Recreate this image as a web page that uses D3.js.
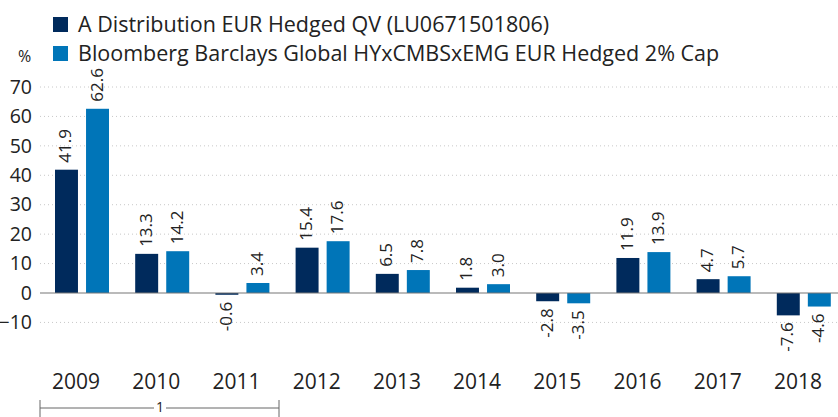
<!DOCTYPE html>
<html>
<head>
<meta charset="utf-8">
<script src="https://cdn.jsdelivr.net/npm/d3@7"></script>
<style>
  body { margin: 0; background: #fff; }
  text { font-family: "Open Sans", "Noto Sans", sans-serif; fill: #222; }
</style>
</head>
<body>
<div id="chart"></div>
<script>
// Data
const years = ["2009", "2010", "2011", "2012", "2013", "2014", "2015", "2016", "2017", "2018"];
const fund = [41.9, 13.3, -0.6, 15.4, 6.5, 1.8, -2.8, 11.9, 4.7, -7.6];
const bench = [62.6, 14.2, 3.4, 17.6, 7.8, 3.0, -3.5, 13.9, 5.7, -4.6];
const seriesNames = ["A Distribution EUR Hedged QV (LU0671501806)", "Bloomberg Barclays Global HYxCMBSxEMG EUR Hedged 2% Cap"];
const yTicks = [-10, 0, 10, 20, 30, 40, 50, 60, 70];

const width = 838, height = 417;
const colors = ["#002a5c", "#0075b8"];

const svg = d3.select("#chart")
  .append("svg")
  .attr("width", width)
  .attr("height", height);

const data = years.map((y, i) => ({ year: y, values: [fund[i], bench[i]] }));

// Scales
const xScale = d3.scaleBand()
  .domain(years)
  .range([42, 844]);

const xSub = d3.scaleBand()
  .domain([0, 1])
  .range([13, 67])
  .paddingInner(0.26);

const yScale = d3.scaleLinear()
  .domain([0, 70])
  .range([293, 87]);

// Grid lines
svg.append("g")
  .selectAll("line")
  .data(yTicks.filter(d => d !== 0))
  .join("line")
  .attr("x1", 40)
  .attr("x2", 838)
  .attr("y1", d => yScale(d))
  .attr("y2", d => yScale(d))
  .attr("stroke", "#c8c8c8")
  .attr("stroke-dasharray", "1,3");

// Y axis labels
const yAxis = d3.axisLeft(yScale).tickValues(yTicks).tickSize(0).tickPadding(0);
svg.append("g")
  .attr("transform", "translate(32,0)")
  .call(yAxis)
  .call(g => g.select(".domain").remove())
  .selectAll("text")
  .style("font-size", "19.5px")
  .attr("fill", "#222");

svg.append("text")
  .attr("x", 18)
  .attr("y", 62)
  .style("font-size", "16px")
  .text("%");

// Bars
const groups = svg.append("g")
  .selectAll("g")
  .data(data)
  .join("g")
  .attr("transform", d => `translate(${xScale(d.year)},0)`);

groups.selectAll("rect")
  .data(d => d.values.map((v, i) => ({ v, i })))
  .join("rect")
  .attr("x", d => xSub(d.i))
  .attr("y", d => yScale(Math.max(0, d.v)))
  .attr("width", xSub.bandwidth())
  .attr("height", d => Math.abs(yScale(d.v) - yScale(0)))
  .attr("fill", d => colors[d.i]);

// Value labels (rotated)
groups.selectAll("text.val")
  .data(d => d.values.map((v, i) => ({ v, i })))
  .join("text")
  .attr("class", "val")
  .attr("transform", d => {
    const cx = xSub(d.i) + xSub.bandwidth() / 2 + 5;
    const y = d.v >= 0 ? yScale(d.v) - 7 : yScale(d.v) + 7;
    return `translate(${cx},${y}) rotate(-90)`;
  })
  .attr("text-anchor", d => d.v >= 0 ? "start" : "end")
  .style("font-size", "17px")
  .text(d => d.v.toFixed(1));

// Zero line
svg.append("line")
  .attr("x1", 40)
  .attr("x2", 838)
  .attr("y1", yScale(0))
  .attr("y2", yScale(0))
  .attr("stroke", "#777")
  .attr("stroke-width", 1.2);

// X axis labels
const xAxis = d3.axisBottom(xScale).tickSize(0).tickPadding(0);
svg.append("g")
  .attr("transform", "translate(-6,374)")
  .call(xAxis)
  .call(g => g.select(".domain").remove())
  .selectAll("text")
  .style("font-size", "21px")
  .attr("fill", "#222");

// Bracket under 2009-2011
const bx1 = 40, bx2 = 279, by = 408;
const bracket = svg.append("g").attr("stroke", "#666").attr("stroke-width", 1);
bracket.append("line").attr("x1", bx1).attr("x2", 154).attr("y1", by).attr("y2", by);
bracket.append("line").attr("x1", 166).attr("x2", bx2).attr("y1", by).attr("y2", by);
bracket.append("line").attr("x1", bx1).attr("x2", bx1).attr("y1", by - 8).attr("y2", by + 9);
bracket.append("line").attr("x1", bx2).attr("x2", bx2).attr("y1", by - 8).attr("y2", by + 9);
svg.append("text")
  .attr("x", 160)
  .attr("y", 412)
  .attr("text-anchor", "middle")
  .style("font-size", "14px")
  .text("1");

// Legend
const legend = svg.append("g").attr("transform", "translate(53,17)");
const legendRow = legend.selectAll("g")
  .data(seriesNames)
  .join("g")
  .attr("transform", (_, i) => `translate(0,${i * 29})`);

legendRow.append("rect")
  .attr("width", 15)
  .attr("height", 15)
  .attr("fill", (_, i) => colors[i]);

legendRow.append("text")
  .attr("x", 25)
  .attr("y", 15)
  .style("font-size", "21.5px")
  .text(d => d);
</script>
</body>
</html>
